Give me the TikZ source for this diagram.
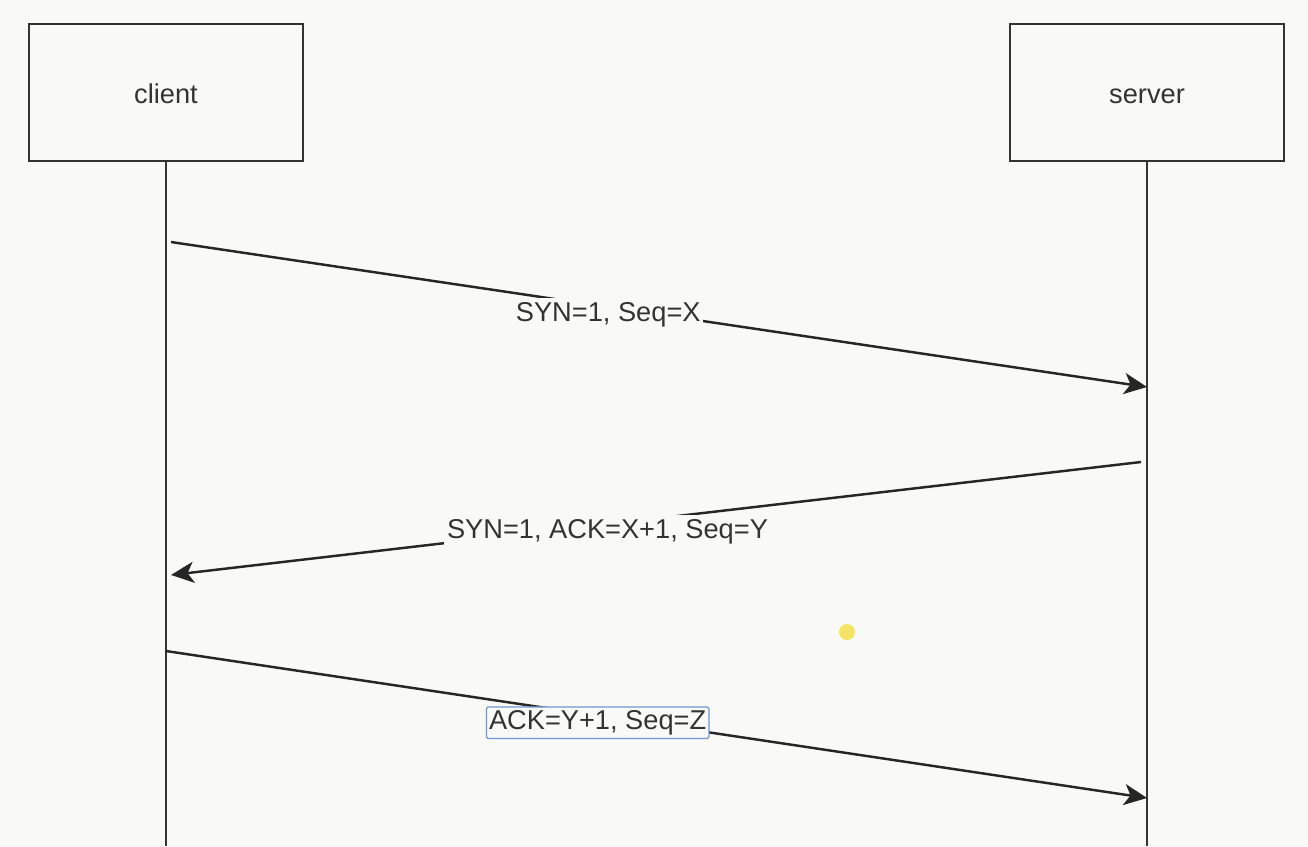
\documentclass[tikz,border=0pt]{standalone}
\usepackage{fontspec}
\setmainfont{Liberation Sans}
\usetikzlibrary{arrows.meta}
\definecolor{paper}{RGB}{249,250,248}
\definecolor{ink}{RGB}{51,51,51}
\definecolor{selblue}{RGB}{110,150,210}
\definecolor{pointer}{RGB}{245,228,100}

\begin{document}
\begin{tikzpicture}[x=0.02cm, y=-0.02cm,
        every node/.style={font=\fontsize{15.5}{18}\selectfont, text=ink},
        party/.style={draw=ink, line width=1.4pt, minimum width=5.48cm, minimum height=2.74cm,
            text height=12.5pt, text depth=0.5pt},
        life/.style={draw=ink, line width=1.3pt},
        msg/.style={draw=black!85, line width=1.4pt, -{Stealth[length=13pt, width=12pt, inset=3.5pt]}},
        tag/.style={fill=paper, inner sep=1.5pt, text height=11.5pt, text depth=3.5pt, yshift=-4pt},
        picked/.style={draw=selblue, line width=0.7pt, rounded corners=1pt}]
        \fill[paper] (0,0) rectangle (1308,846);
        \useasboundingbox (0,0) rectangle (1308,846);

        \node[party] at (166, 92.5)   (client) {client};
        \node[party] at (1147, 92.5)  (server) {server};
        \coordinate (clientEnd) at (166, 846);
        \coordinate (serverEnd) at (1147, 846);

        \coordinate (c1) at (171, 242);
        \coordinate (s1) at (1147, 387);
        \coordinate (s2) at (1141, 462);
        \coordinate (c2) at (171, 575);
        \coordinate (c3) at (166, 651);
        \coordinate (s3) at (1147, 798);

        \draw[life] (client.south) -- (clientEnd);
        \draw[life] (server.south) -- (serverEnd);

        \draw[msg] (c1) -- node[tag, pos=0.448] (syn) {SYN=1, Seq=X} (s1);
        \draw[msg] (s2) -- node[tag, pos=0.55] (synack) {SYN=1, ACK=X+1, Seq=Y} (c2);
        \draw[msg] (c3) -- node[tag, picked, pos=0.44] (ack) {ACK=Y+1, Seq=Z} (s3);

        \node[circle, fill=pointer, inner sep=0pt, minimum size=0.32cm] at (847, 632) (cursor) {};
    \end{tikzpicture}
\end{document}
